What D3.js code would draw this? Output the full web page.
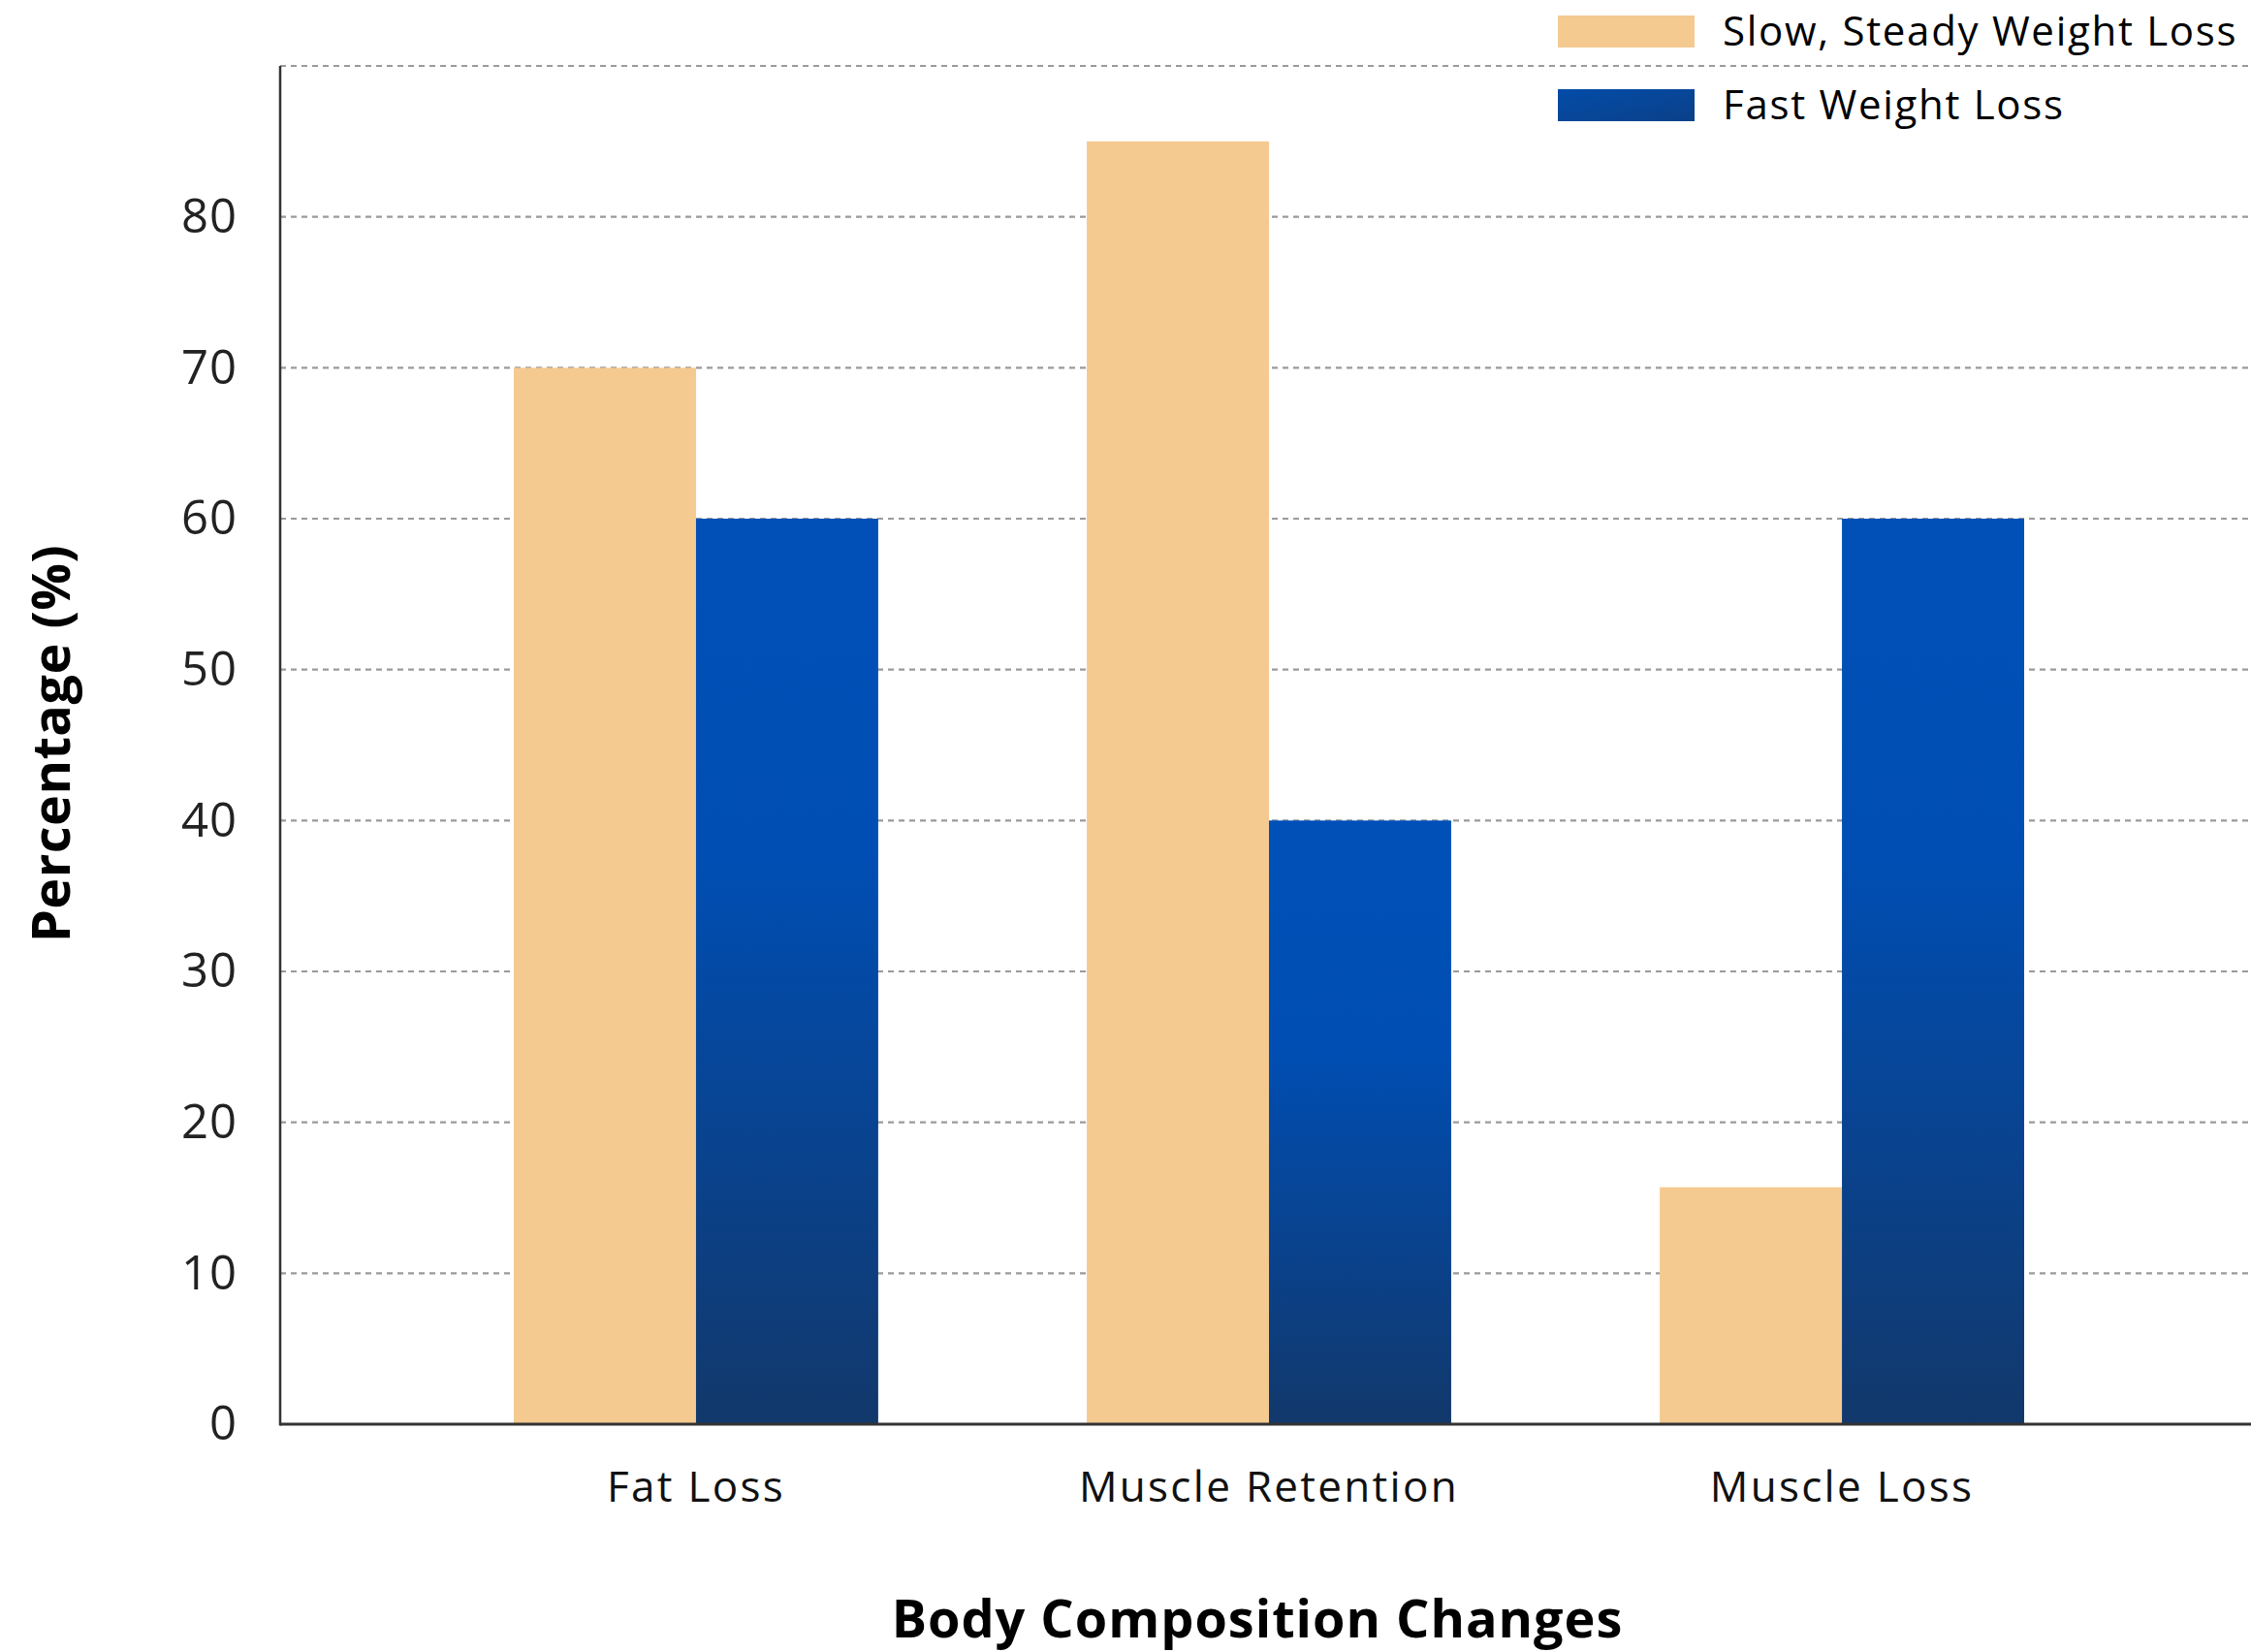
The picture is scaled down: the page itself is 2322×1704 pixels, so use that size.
<!DOCTYPE html>
<html>
<head>
<meta charset="utf-8">
<script src="https://cdn.jsdelivr.net/npm/d3@7"></script>
<style>
  html, body { margin: 0; padding: 0; background: #ffffff; }
  svg { display: block; }
  text { font-family: "Open Sans", "Noto Sans", sans-serif; }
</style>
</head>
<body>
<svg id="chart" width="2322" height="1704"></svg>
<script>
// ---- data ----
const categories = ["Fat Loss", "Muscle Retention", "Muscle Loss"];
const seriesNames = ["Slow, Steady Weight Loss", "Fast Weight Loss"];
const slowValues = [70, 85, 15.7];
const fastValues = [60, 40, 60];
const yTickValues = [0, 10, 20, 30, 40, 50, 60, 70, 80];
const gridValues = [10, 20, 30, 40, 50, 60, 70, 80, 90];
const xTitle = "Body Composition Changes";
const yTitle = "Percentage (%)";

const valuesBySeries = [slowValues, fastValues];

// ---- layout ----
const W = 2322, H = 1704;
const axisX = 289, plotRight = 2322, plotTop = 68, baseY = 1469;

const svg = d3.select("#chart");

const defs = svg.append("defs");
const grad = defs.append("linearGradient")
  .attr("id", "fastGrad")
  .attr("x1", 0).attr("y1", 0).attr("x2", 0).attr("y2", 1);
grad.append("stop").attr("offset", 0).attr("stop-color", "#0050b8");
grad.append("stop").attr("offset", 0.38).attr("stop-color", "#004eb3");
grad.append("stop").attr("offset", 1).attr("stop-color", "#12386b");

const legGrad = defs.append("linearGradient")
  .attr("id", "legGrad")
  .attr("x1", 0).attr("y1", 0).attr("x2", 1).attr("y2", 1);
legGrad.append("stop").attr("offset", 0).attr("stop-color", "#034ca8");
legGrad.append("stop").attr("offset", 1).attr("stop-color", "#0b4089");

const colors = ["#f4ca91", "url(#fastGrad)"];
const legendColors = ["#f4ca91", "url(#legGrad)"];

const y = d3.scaleLinear().domain([0, 90]).range([baseY, plotTop]);
const x0 = d3.scaleBand().domain(categories).range([530, 2088]).paddingInner(0.364).paddingOuter(0);
const x1 = d3.scaleBand().domain(seriesNames).range([0, x0.bandwidth()]).padding(0);

// gridlines
svg.append("g").selectAll("line")
  .data(gridValues).join("line")
  .attr("x1", axisX).attr("x2", plotRight)
  .attr("y1", d => y(d)).attr("y2", d => y(d))
  .attr("stroke", "#9a9a9a")
  .attr("stroke-width", 2.2)
  .attr("stroke-dasharray", "6,5");

// bars
const groups = svg.append("g").selectAll("g")
  .data(categories).join("g")
  .attr("transform", d => `translate(${x0(d)},0)`);

groups.selectAll("rect")
  .data((c, i) => seriesNames.map((s, si) => ({ s, si, v: valuesBySeries[si][i] })))
  .join("rect")
  .attr("x", d => x1(d.s))
  .attr("width", x1.bandwidth())
  .attr("y", d => y(d.v))
  .attr("height", d => y(0) - y(d.v))
  .attr("fill", d => colors[d.si]);

// y axis
const yAxis = d3.axisLeft(y).tickValues(yTickValues).tickSize(0).tickPadding(44).tickFormat(d3.format("d"));
const yg = svg.append("g").attr("transform", `translate(${axisX},0)`).call(yAxis);
yg.select(".domain").remove();
yg.selectAll("text")
  .attr("font-size", 49)
  .attr("fill", "#222")
  .style("letter-spacing", "1px")
  .style("font-family", "'Open Sans', sans-serif");

svg.append("line")
  .attr("x1", axisX).attr("x2", axisX)
  .attr("y1", plotTop).attr("y2", baseY + 1.5)
  .attr("stroke", "#333").attr("stroke-width", 2.5);

// x axis
const xAxis = d3.axisBottom(x0).tickSize(0).tickPadding(0);
const xg = svg.append("g").attr("transform", `translate(0,${baseY})`).call(xAxis);
xg.select(".domain").remove();
xg.selectAll("text")
  .attr("dy", 0)
  .attr("y", 80)
  .attr("font-size", 44)
  .attr("fill", "#111")
  .style("letter-spacing", "2.3px")
  .style("font-family", "'Open Sans', sans-serif");

svg.append("line")
  .attr("x1", axisX).attr("x2", plotRight)
  .attr("y1", baseY).attr("y2", baseY)
  .attr("stroke", "#333").attr("stroke-width", 3);

// axis titles
svg.append("text")
  .attr("x", 1297).attr("y", 1689)
  .attr("text-anchor", "middle")
  .attr("font-size", 54)
  .attr("font-weight", 700)
  .attr("fill", "#000")
  .style("letter-spacing", "1px")
  .text(xTitle);

svg.append("text")
  .attr("transform", "translate(72,767) rotate(-90)")
  .attr("text-anchor", "middle")
  .attr("font-size", 54)
  .attr("font-weight", 700)
  .attr("fill", "#000")
  .style("letter-spacing", "0.5px")
  .text(yTitle);

// legend
const legend = svg.append("g");
const legY = [16, 92];
seriesNames.forEach((s, i) => {
  legend.append("rect")
    .attr("x", 1607).attr("y", legY[i])
    .attr("width", 141).attr("height", 33)
    .attr("fill", legendColors[i]);
  legend.append("text")
    .attr("x", 1777).attr("y", legY[i] + 31)
    .attr("font-size", 42)
    .attr("fill", "#000")
    .style("letter-spacing", "1.7px")
    .text(s);
});
</script>
</body>
</html>
